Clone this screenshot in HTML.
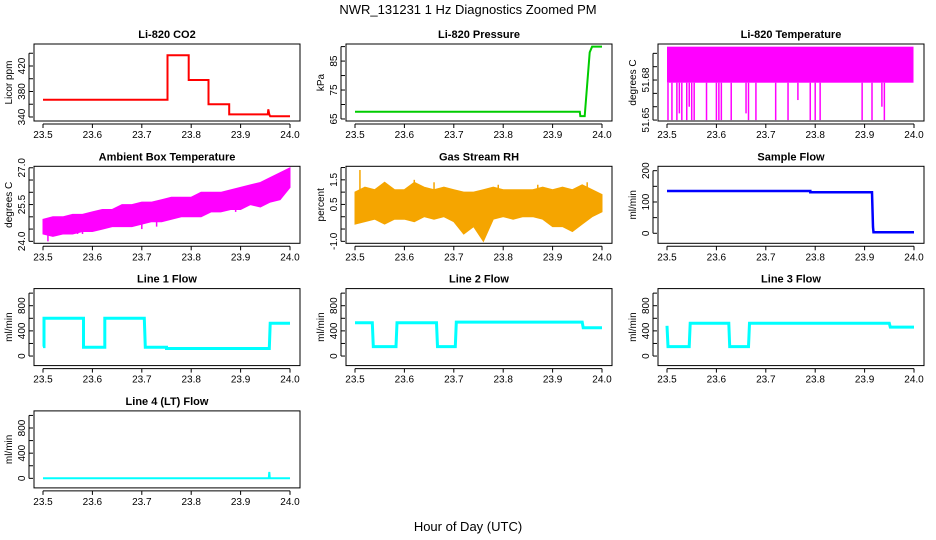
<!DOCTYPE html>
<html><head><meta charset="utf-8"><style>
body{margin:0;background:#fff;}
svg{display:block;font-family:"Liberation Sans",sans-serif;}
</style></head><body>
<svg id="chart" width="936" height="540" viewBox="0 0 936 540" xmlns="http://www.w3.org/2000/svg">
<text x="468" y="14" font-size="13" text-anchor="middle">NWR_131231  1 Hz Diagnostics Zoomed PM</text>
<text x="468" y="531" font-size="13" text-anchor="middle">Hour of Day (UTC)</text>
</svg>
<script>
// ---- data ----
const xTicks = [23.5, 23.6, 23.7, 23.8, 23.9, 24.0];
const xTickLabels = ["23.5", "23.6", "23.7", "23.8", "23.9", "24.0"];

const co2X = [23.5, 23.752, 23.752, 23.795, 23.795, 23.835, 23.835, 23.877, 23.877, 23.955, 23.956, 23.958, 23.96, 24.0];
const co2Y = [367, 367, 437, 437, 398, 398, 360, 360, 344, 344, 352, 344, 341, 341];

const presX = [23.5, 23.955, 23.956, 23.965, 23.975, 23.98, 24.0];
const presY = [67.5, 67.5, 66, 66, 88, 90, 90];

const tempBlock = [23.5, 23.999, 51.678, 51.705];
const tempSpikeX = [23.502, 23.51, 23.52, 23.525, 23.53, 23.54, 23.545, 23.55, 23.555, 23.58, 23.6, 23.605, 23.61, 23.63, 23.66, 23.665, 23.68, 23.72, 23.745, 23.765, 23.79, 23.80, 23.81, 23.895, 23.915, 23.935, 23.94];
const tempSpikeY = [51.65, 51.65, 51.65, 51.655, 51.65, 51.65, 51.66, 51.65, 51.65, 51.65, 51.65, 51.65, 51.65, 51.65, 51.655, 51.65, 51.65, 51.65, 51.65, 51.665, 51.65, 51.65, 51.65, 51.65, 51.65, 51.66, 51.65];

const ambX  = [23.5, 23.52, 23.54, 23.56, 23.58, 23.6, 23.62, 23.64, 23.66, 23.68, 23.7, 23.72, 23.74, 23.76, 23.78, 23.8, 23.82, 23.84, 23.86, 23.88, 23.9, 23.92, 23.94, 23.96, 23.98, 24.0];
const ambLo = [24.3, 24.2, 24.3, 24.3, 24.4, 24.4, 24.5, 24.6, 24.6, 24.6, 24.7, 24.8, 24.8, 24.9, 25.0, 25.0, 25.0, 25.2, 25.2, 25.3, 25.3, 25.5, 25.4, 25.6, 25.7, 26.2];
const ambHi = [24.9, 25.0, 25.0, 25.1, 25.1, 25.2, 25.3, 25.3, 25.5, 25.5, 25.6, 25.6, 25.7, 25.8, 25.8, 25.8, 26.0, 26.0, 26.0, 26.1, 26.2, 26.3, 26.4, 26.6, 26.8, 27.0];
const ambSpikeX = [23.51, 23.57, 23.58, 23.66, 23.70, 23.73, 23.80, 23.86, 23.89, 23.91, 23.95, 23.97];
const ambSpikeY = [24.0, 24.3, 24.3, 24.6, 24.5, 24.6, 25.0, 25.3, 25.2, 25.4, 25.5, 25.9];

const rhX  = [23.5, 23.52, 23.54, 23.56, 23.58, 23.6, 23.62, 23.64, 23.66, 23.68, 23.7, 23.72, 23.74, 23.76, 23.78, 23.8, 23.82, 23.84, 23.86, 23.88, 23.9, 23.92, 23.94, 23.96, 23.98, 24.0];
const rhLo = [-0.3, -0.2, -0.1, -0.3, -0.1, -0.1, -0.2, 0.0, -0.1, 0.0, -0.2, -0.7, -0.4, -1.0, -0.1, 0.0, -0.1, 0.0, 0.0, -0.1, -0.4, -0.4, -0.6, -0.3, 0.0, 0.2];
const rhHi = [1.0, 1.2, 1.1, 1.4, 1.1, 1.1, 1.4, 1.2, 1.1, 1.2, 1.1, 1.0, 1.0, 1.1, 1.2, 1.1, 1.1, 1.1, 1.1, 1.2, 1.1, 1.2, 1.1, 1.3, 1.1, 0.9];
const rhSpikeX = [23.51, 23.62, 23.66, 23.77, 23.79, 23.87, 23.97];
const rhSpikeY = [1.9, 1.5, 1.4, 1.0, 1.3, 1.3, 1.4];

const sfX = [23.5, 23.79, 23.79, 23.915, 23.917, 23.918, 24.0];
const sfY = [135, 135, 131, 131, 20, 3, 3];

const l1X = [23.5, 23.502, 23.502, 23.582, 23.582, 23.625, 23.625, 23.705, 23.707, 23.75, 23.75, 23.958, 23.96, 24.0];
const l1Y = [150, 150, 600, 600, 140, 140, 600, 600, 140, 140, 120, 120, 520, 520];
const l2X = [23.5, 23.535, 23.537, 23.583, 23.585, 23.665, 23.667, 23.703, 23.705, 23.96, 23.962, 24.0];
const l2Y = [530, 530, 150, 150, 530, 530, 150, 150, 540, 540, 450, 450];
const l3X = [23.5, 23.502, 23.545, 23.547, 23.625, 23.627, 23.665, 23.667, 23.95, 23.952, 24.0];
const l3Y = [480, 150, 150, 520, 520, 150, 150, 520, 520, 460, 460];
const l4X = [23.5, 23.957, 23.958, 23.959, 23.96, 24.0];
const l4Y = [0, 0, 100, 20, 0, 0];

// ---- layout helpers ----
const svg = document.getElementById('chart');
const NS = 'http://www.w3.org/2000/svg';
function mk(tag, attrs, parent) {
  const e = document.createElementNS(NS, tag);
  for (const k in attrs) e.setAttribute(k, attrs[k]);
  (parent || svg).appendChild(e);
  return e;
}
function panel(col, row, title, ylab, vBot, vTop, ticks, labelVals, labelText, name) {
  const left = 34 + 312 * col, right = 300 + 312 * col;
  const top = 44 + 122.3 * row, bot = 121 + 122.3 * row;
  const xs = v => 43 + 312 * col + (v - 23.5) / 0.5 * 247;
  const ys = v => bot - (v - vBot) / (vTop - vBot) * (bot - top);
  const g = mk('g', {});
  
  
  const t = mk('text', {x: (left + right) / 2, y: top - 6, 'font-size': 11, 'font-weight': 'bold', 'text-anchor': 'middle'}, g);
  t.textContent = title;
  
  
  const r = mk('rect', {x: left, y: top, width: right - left, height: bot - top, fill: 'none', stroke: '#000', 'stroke-width': 1}, g);
  
  
  xTicks.forEach((v, i) => {
    mk('line', {x1: xs(v), x2: xs(v), y1: bot + 3, y2: bot + 7, stroke: '#000'}, g);
    const lt = mk('text', {x: xs(v), y: bot + 17, 'font-size': 10, 'text-anchor': 'middle'}, g);
    lt.textContent = xTickLabels[i];
    
    
  });
  mk('line', {x1: xs(23.5), x2: xs(24), y1: bot + 3, y2: bot + 3, stroke: '#000'}, g);
  ticks.forEach(v => mk('line', {x1: left - 5, x2: left - 1, y1: ys(v), y2: ys(v), stroke: '#000'}, g));
  mk('line', {x1: left - 5, x2: left - 5, y1: ys(ticks[0]), y2: ys(ticks[ticks.length - 1]), stroke: '#000'}, g);
  labelVals.forEach((v, i) => {
    const lt = mk('text', {x: 0, y: 0, 'font-size': 10, 'text-anchor': 'middle', transform: `translate(${left - 9},${ys(v)}) rotate(-90)`}, g);
    lt.textContent = labelText[i];
    
    
  });
  const yl = mk('text', {x: 0, y: 0, 'font-size': 10, 'text-anchor': 'middle', transform: `translate(${left - 22},${(top + bot) / 2}) rotate(-90)`}, g);
  yl.textContent = ylab;
  
  
  return {g, xs, ys};
}
function line(p, X, Y, color, w, name) {
  const d = X.map((x, i) => (i ? 'L' : 'M') + p.xs(x).toFixed(1) + ',' + p.ys(Y[i]).toFixed(1)).join('');
  const e = mk('path', {d, fill: 'none', stroke: color, 'stroke-width': w}, p.g);
  
  
}
function band(p, X, Lo, Hi, color, name) {
  const d = X.map((x, i) => (i ? 'L' : 'M') + p.xs(x).toFixed(1) + ',' + p.ys(Hi[i]).toFixed(1)).join('') +
    X.slice().reverse().map((x, j) => 'L' + p.xs(x).toFixed(1) + ',' + p.ys(Lo[X.length - 1 - j]).toFixed(1)).join('') + 'Z';
  const e = mk('path', {d, fill: color, stroke: color, 'stroke-width': 1}, p.g);
  
  
}
function spikes(p, X, Y, base, color, name) {
  X.forEach((x, i) => {
    const e = mk('line', {x1: p.xs(x), x2: p.xs(x), y1: p.ys(base(x)), y2: p.ys(Y[i]), stroke: color, 'stroke-width': 1.5}, p.g);
    
    
  });
}
function interp(X, V, x) {
  for (let i = 1; i < X.length; i++) if (x <= X[i]) return V[i - 1] + (V[i] - V[i - 1]) * (x - X[i - 1]) / (X[i] - X[i - 1]);
  return V[V.length - 1];
}

// CO2
let p = panel(0, 0, 'Li-820 CO2', 'Licor ppm', 333.7, 454.5, [340, 360, 380, 400, 420, 440], [340, 380, 420], ['340', '380', '420'], 'co2');
line(p, co2X, co2Y, '#ff0000', 2, 'co2-line');
// Pressure
p = panel(1, 0, 'Li-820 Pressure', 'kPa', 64.3, 90.9, [65, 70, 75, 80, 85, 90], [65, 75, 85], ['65', '75', '85'], 'pressure');
line(p, presX, presY, '#00cc00', 2, 'pressure-line');
// Temperature
p = panel(2, 0, 'Li-820 Temperature', 'degrees C', 51.6493, 51.707, [51.65, 51.66, 51.67, 51.68, 51.69, 51.70], [51.65, 51.68], ['51.65', '51.68'], 'li820-temp');
{
  const e = mk('rect', {x: p.xs(tempBlock[0]), y: p.ys(tempBlock[3]), width: p.xs(tempBlock[1]) - p.xs(tempBlock[0]), height: p.ys(tempBlock[2]) - p.ys(tempBlock[3]), fill: '#ff00ff'}, p.g);
  
  
}
spikes(p, tempSpikeX, tempSpikeY, () => tempBlock[2], '#ff00ff', 'li820-temp-spike');
// Ambient
p = panel(0, 1, 'Ambient Box Temperature', 'degrees C', 23.92, 27.06, [24, 24.5, 25, 25.5, 26, 26.5, 27], [24, 25.5, 27], ['24.0', '25.5', '27.0'], 'ambient');
band(p, ambX, ambLo, ambHi, '#ff00ff', 'ambient-band');
spikes(p, ambSpikeX, ambSpikeY, x => interp(ambX, ambLo, x), '#ff00ff', 'ambient-spike');
// RH
p = panel(1, 1, 'Gas Stream RH', 'percent', -1.08, 2.05, [-1, -0.5, 0, 0.5, 1, 1.5, 2], [-1, 0.5, 1.5], ['-1.0', '0.5', '1.5'], 'rh');
band(p, rhX, rhLo, rhHi, '#f5a500', 'rh-band');
spikes(p, rhSpikeX, rhSpikeY, x => interp(rhX, rhHi, x), '#f5a500', 'rh-spike');
// Sample flow
p = panel(2, 1, 'Sample Flow', 'ml/min', -32, 214, [0, 50, 100, 150, 200], [0, 100, 200], ['0', '100', '200'], 'sample-flow');
line(p, sfX, sfY, '#0000ff', 2.5, 'sample-flow-line');
// Line flows
const fT = [0, 200, 400, 600, 800, 1000], fL = [0, 400, 800], fLT = ['0', '400', '800'];
p = panel(0, 2, 'Line 1 Flow', 'ml/min', -152, 1072, fT, fL, fLT, 'line1');
line(p, l1X, l1Y, '#00ffff', 3, 'line1-flow');
p = panel(1, 2, 'Line 2 Flow', 'ml/min', -152, 1072, fT, fL, fLT, 'line2');
line(p, l2X, l2Y, '#00ffff', 3, 'line2-flow');
p = panel(2, 2, 'Line 3 Flow', 'ml/min', -152, 1072, fT, fL, fLT, 'line3');
line(p, l3X, l3Y, '#00ffff', 3, 'line3-flow');
p = panel(0, 3, 'Line 4 (LT) Flow', 'ml/min', -152, 1072, fT, fL, fLT, 'line4');
line(p, l4X, l4Y, '#00ffff', 2, 'line4-flow');
</script>
</body></html>
